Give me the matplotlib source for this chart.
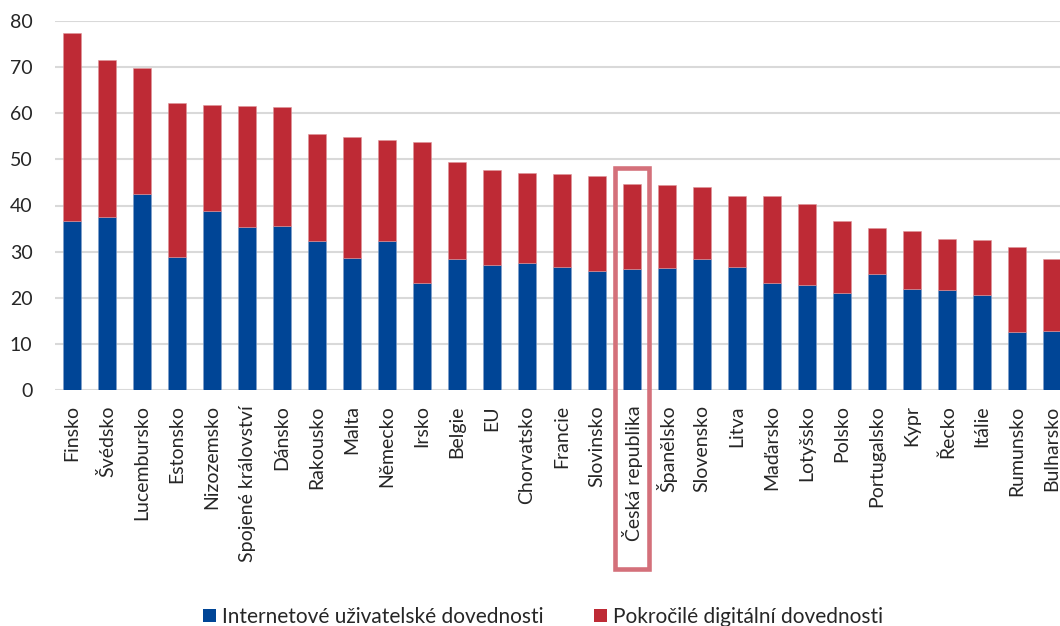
import matplotlib
matplotlib.use("Agg")
import matplotlib.pyplot as plt
from matplotlib.patches import Patch, Rectangle
import numpy as np

plt.rcParams['font.family'] = ['Lato', 'DejaVu Sans']

countries = ["Finsko", "Švédsko", "Lucembursko", "Estonsko", "Nizozemsko",
             "Spojené království", "Dánsko", "Rakousko", "Malta", "Německo",
             "Irsko", "Belgie", "EU", "Chorvatsko", "Francie", "Slovinsko",
             "Česká republika", "Španělsko", "Slovensko", "Litva", "Maďarsko",
             "Lotyšsko", "Polsko", "Portugalsko", "Kypr", "Řecko", "Itálie",
             "Rumunsko", "Bulharsko"]

internet_skills = [36.6, 37.4, 42.6, 28.9, 38.7, 35.4, 35.6, 32.2, 28.7, 32.2,
                   23.1, 28.3, 27.2, 27.5, 26.7, 25.9, 26.3, 26.5, 28.5, 26.6,
                   23.3, 22.8, 21.1, 25.1, 22.0, 21.7, 20.7, 12.5, 12.7]

total_skills = [77.5, 71.5, 69.8, 62.3, 61.7, 61.6, 61.4, 55.5, 54.9, 54.3,
                53.7, 49.5, 47.8, 47.0, 46.8, 46.3, 44.7, 44.4, 44.1, 42.1,
                42.1, 40.4, 36.7, 35.1, 34.5, 32.7, 32.5, 30.9, 28.4]

advanced_skills = [round(t - b, 1) for t, b in zip(total_skills, internet_skills)]

series_names = ["Internetové uživatelské dovednosti", "Pokročilé digitální dovednosti"]
highlight = "Česká republika"

yticks = [0, 10, 20, 30, 40, 50, 60, 70, 80]

BLUE = "#004596"
RED = "#BE2A35"
TEXT = "#262626"
GRID = "#D9D9D9"
BOX = "#D4707A"

W, H = 1060, 626
fig = plt.figure(figsize=(W / 100, H / 100), dpi=100)
ax = fig.add_axes([54.6 / W, (H - 390) / H, 1015 / W, 369 / H])

x = np.arange(len(countries))
ax.bar(x, internet_skills, width=0.5, color=BLUE, edgecolor="#7F9FC9", linewidth=0.4, zorder=3)
ax.bar(x, advanced_skills, width=0.5, bottom=internet_skills, color=RED,
       edgecolor="#DE9499", linewidth=0.4, zorder=3)

ax.set_xlim(-0.5, len(countries) - 0.5)
ax.set_ylim(0, 80)
ax.set_yticks(yticks)
ax.set_yticklabels([str(v) for v in yticks])
ax.set_xticks(x)
ax.set_xticklabels(countries, rotation=90, va="top", ha="center")
ax.tick_params(axis="both", length=0, labelsize=14, colors=TEXT)
ax.tick_params(axis="y", pad=16)
ax.tick_params(axis="x", pad=11)
ax.grid(axis="y", color=GRID, linewidth=1.5, zorder=0)
for s in ax.spines.values():
    s.set_visible(False)

# highlight box around the Czech Republic
i = countries.index(highlight)
rect = Rectangle((i - 0.49, -38.8), 0.98, 86.9, fill=False, edgecolor=BOX,
                 linewidth=3.3, clip_on=False, zorder=5)
ax.add_patch(rect)

handles = [Patch(facecolor=BLUE, edgecolor="none"), Patch(facecolor=RED, edgecolor="none")]
fig.legend(handles, series_names, loc="center", ncol=2, frameon=False,
           bbox_to_anchor=(543 / W, 1 - 617 / H), fontsize=15,
           handlelength=0.62, handleheight=0.62, handletextpad=0.3,
           columnspacing=2.4, labelcolor=TEXT, borderaxespad=0, borderpad=0)

fig.savefig("out.png", dpi=100)
